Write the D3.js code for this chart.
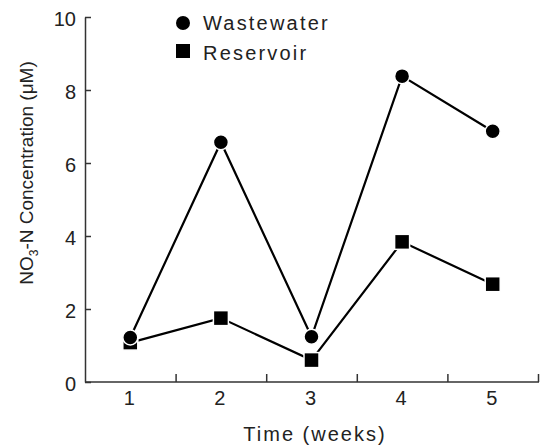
<!DOCTYPE html>
<html lang="en">
<head>
<meta charset="UTF-8">
<title>NO3-N Concentration</title>
<script src="https://d3js.org/d3.v7.min.js"></script>
<style>
  body { margin: 0; background: #fff; }
  text { font-family: "Liberation Sans", Arial, sans-serif; fill: #222; }
</style>
</head>
<body>
<script>
const weeks = [1, 2, 3, 4, 5];
const wastewater = [1.22, 6.57, 1.24, 8.38, 6.87];
const reservoir = [1.08, 1.75, 0.6, 3.84, 2.68];
const yTicks = [0, 2, 4, 6, 8, 10];

const width = 542, height = 447;
const svg = d3.select("body").append("svg").attr("width", width).attr("height", height);

const x = d3.scaleLinear().domain([0.5, 5.5]).range([85, 538]);
const y = d3.scaleLinear().domain([0, 10]).range([382, 17]);

// axes
const xAxis = svg.append("g").attr("transform", `translate(0,${y(0)})`)
    .call(d3.axisTop(x).tickValues([1.5, 2.5, 3.5, 4.5, 5.5]).tickSize(8).tickFormat("").tickSizeOuter(0));
xAxis.select(".domain").attr("d", `M${x(0.5)},0H${x(5.5) + 1}`);
xAxis.selectAll("path, line").attr("stroke", "#333").attr("stroke-width", 1.5);

svg.append("g").selectAll("text").data(weeks).enter().append("text")
    .attr("x", d => x(d) - 1).attr("y", y(0) + 23)
    .attr("text-anchor", "middle").style("font-size", "20px")
    .text(d => d);

const yAxis = svg.append("g").attr("transform", `translate(${x(0.5)},0)`)
    .call(d3.axisRight(y).tickValues(yTicks).tickSize(6).tickFormat("").tickSizeOuter(0));
yAxis.selectAll("path, line").attr("stroke", "#333").attr("stroke-width", 1.5);

svg.append("g").selectAll("text").data(yTicks).enter().append("text")
    .attr("x", 76).attr("y", d => y(d) + 8.5)
    .attr("text-anchor", "end").style("font-size", "20px")
    .text(d => d);

// axis titles
svg.append("text").attr("x", 315).attr("y", 441).attr("text-anchor", "middle")
    .style("font-size", "20px").style("letter-spacing", "2px").text("Time (weeks)");

const yl = svg.append("text").attr("transform", "translate(33,173) rotate(-90)")
    .attr("text-anchor", "middle").style("font-size", "19px");
yl.append("tspan").text("NO");
yl.append("tspan").attr("dy", 5).style("font-size", "12px").text("3");
yl.append("tspan").attr("dy", -5).text("-N Concentration (\u03bcM)");

// lines
const line = d3.line().x((d, i) => x(weeks[i])).y(d => y(d));
[wastewater, reservoir].forEach(s => {
  svg.append("path").datum(s).attr("d", line)
      .attr("fill", "none").attr("stroke", "#000").attr("stroke-width", 2.2);
});

// markers
svg.append("g").selectAll("rect").data(reservoir).enter().append("rect")
    .attr("x", (d, i) => x(weeks[i]) - 7.5).attr("y", d => y(d) - 7.5)
    .attr("width", 15).attr("height", 15)
    .attr("fill", "#000").attr("stroke", "#fff").attr("stroke-width", 1.5);

svg.append("g").selectAll("circle").data(wastewater).enter().append("circle")
    .attr("cx", (d, i) => x(weeks[i])).attr("cy", d => y(d)).attr("r", 7.5)
    .attr("fill", "#000").attr("stroke", "#fff").attr("stroke-width", 1.5);

// legend
const legend = svg.append("g");
legend.append("circle").attr("cx", 183).attr("cy", 23).attr("r", 7).attr("fill", "#000");
legend.append("rect").attr("x", 176).attr("y", 44).attr("width", 14).attr("height", 14).attr("fill", "#000");
legend.append("text").attr("x", 203).attr("y", 30).style("font-size", "20px").style("letter-spacing", "2.2px").text("Wastewater");
legend.append("text").attr("x", 203).attr("y", 60).style("font-size", "20px").style("letter-spacing", "2.2px").text("Reservoir");
</script>
</body>
</html>
